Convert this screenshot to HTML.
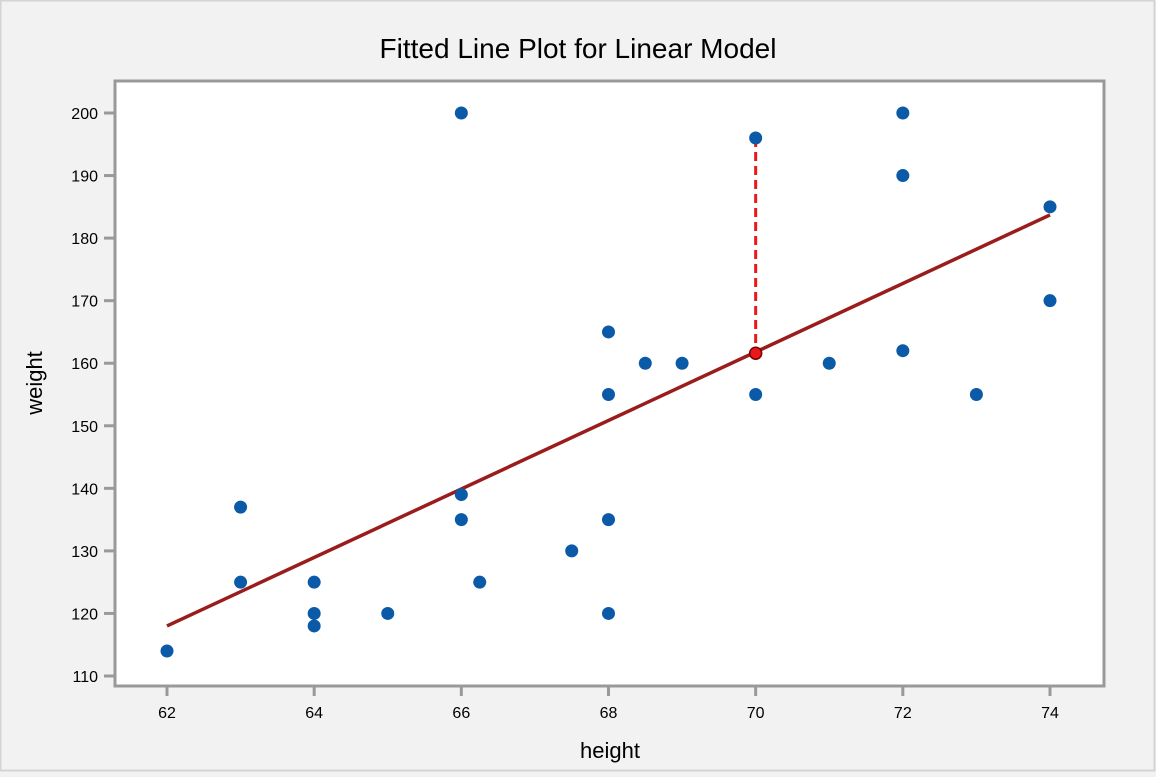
<!DOCTYPE html>
<html><head><meta charset="utf-8"><style>
html,body{margin:0;padding:0;background:#f2f2f2;}
body{width:1156px;height:772px;overflow:hidden;font-family:"Liberation Sans",sans-serif;}
</style></head><body>
<svg id="chart" width="1156" height="772" xmlns="http://www.w3.org/2000/svg">
<rect x="0.5" y="0.5" width="1154" height="770" fill="#f2f2f2" stroke="#d4d4d4" stroke-width="2"/>
<text x="578" y="58" text-anchor="middle" font-size="28" fill="#000">Fitted Line Plot for Linear Model</text>
<rect x="115" y="81" width="989" height="605" fill="#fff" stroke="#999" stroke-width="3"/>
<text x="610" y="758" text-anchor="middle" font-size="22">height</text>
<text transform="translate(42,383) rotate(-90)" text-anchor="middle" font-size="22">weight</text>
<g id="xaxis"></g>
<g id="yaxis"></g>
<g id="marks"></g>
</svg>
<script>
const xTicks=[62,64,66,68,70,72,74];
const yTicks=[110,120,130,140,150,160,170,180,190,200];
const heights=[62,63,63,64,64,64,65,66,66,66,66.25,67.5,68,68,68,68,68.5,69,70,70,71,72,72,72,73,74,74];
const weights=[114,137,125,125,120,118,120,200,139,135,125,130,165,155,135,120,160,160,196,155,160,200,190,162,155,185,170];
const fitX=[62,74];
const fitY=[118,183.7];
const highlightX=70;
const highlightObs=196;
const highlightFit=161.6;

const NS="http://www.w3.org/2000/svg";
function sx(v){return 167+(v-62)*(1050-167)/12;}
function sy(v){return 676-(v-110)*(676-113)/90;}
function mk(tag,attrs,parent){const e=document.createElementNS(NS,tag);for(const k in attrs)e.setAttribute(k,attrs[k]);parent.appendChild(e);return e;}
const xa=document.getElementById('xaxis'),ya=document.getElementById('yaxis'),m=document.getElementById('marks');
xTicks.forEach(t=>{
  const l=mk('line',{x1:sx(t),x2:sx(t),y1:687,y2:696,stroke:'#999','stroke-width':3},xa);
  
  
  const tx=mk('text',{x:sx(t),y:718,'text-anchor':'middle','font-size':16},xa);
  tx.textContent=t;
  
  
});
yTicks.forEach(t=>{
  const l=mk('line',{x1:104,x2:114,y1:sy(t),y2:sy(t),stroke:'#999','stroke-width':3},ya);
  
  
  const tx=mk('text',{x:98,y:sy(t)+6,'text-anchor':'end','font-size':16},ya);
  tx.textContent=t;
  
  
});
const fl=mk('line',{x1:sx(fitX[0]),y1:sy(fitY[0]),x2:sx(fitX[1]),y2:sy(fitY[1]),stroke:'#9b1c1c','stroke-width':3.5},m);


const rl=mk('line',{x1:sx(highlightX),y1:sy(highlightObs),x2:sx(highlightX),y2:sy(highlightFit),stroke:'#e8191b','stroke-width':3,'stroke-dasharray':'9,5'},m);


heights.forEach((h,i)=>{
  const c=mk('circle',{cx:sx(h),cy:sy(weights[i]),r:6.5,fill:'#0b5aa8'},m);
  
  
});
const hp=mk('circle',{cx:sx(highlightX),cy:sy(highlightFit),r:6,fill:'#e8191b',stroke:'#7a0000','stroke-width':1.5},m);


</script>
</body></html>
